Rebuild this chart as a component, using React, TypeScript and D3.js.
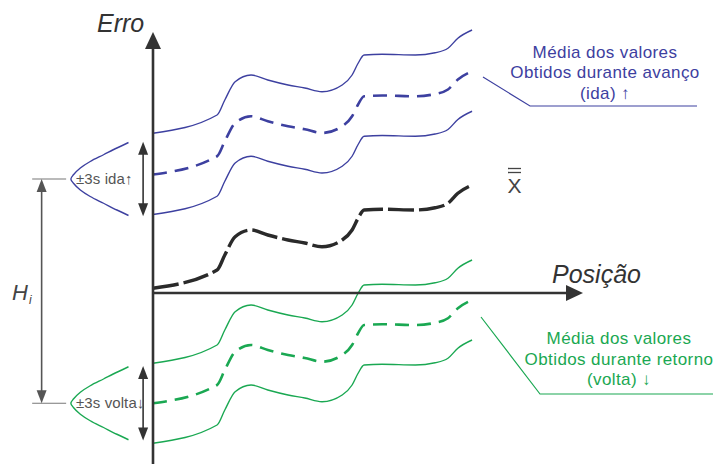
import React, { useEffect, useRef } from 'react';
import * as d3 from 'd3';

const W = 713;
const H = 464;

// posição ao longo do eixo (unidades arbitrárias)
const posicao = [0, 14.9, 16.7, 19.1, 22.8, 26.7, 31.4, 35.3, 39.3, 44.0, 46.3, 47.7, 49.1, 53.3, 61.0, 65.6, 68.6, 70.9, 74.2];

// ida (avanço)
const idaSup = [63.9, 71.2, 77.2, 84.5, 87.2, 85.2, 83.2, 82.0, 80.5, 83.2, 87.2, 91.9, 95.2, 95.5, 95.2, 96.1, 97.9, 101.9, 105.2];
const idaMedia = [47.4, 54.7, 60.7, 68.0, 70.7, 68.7, 66.7, 65.5, 64.0, 66.7, 70.7, 75.4, 78.7, 79.0, 78.7, 79.6, 81.4, 85.4, 88.7];
const idaInf = [31.4, 38.7, 44.7, 52.0, 54.7, 52.7, 50.7, 49.5, 48.0, 50.7, 54.7, 59.4, 62.7, 63.0, 62.7, 63.6, 65.4, 69.4, 72.7];

// média geral
const mediaGeral = [1.9, 9.2, 15.2, 22.5, 25.2, 23.2, 21.2, 20.0, 18.5, 21.2, 25.2, 29.9, 33.2, 33.5, 33.2, 34.1, 35.9, 39.9, 43.2];

// volta (retorno)
const voltaSup = [-28.1, -20.8, -14.8, -7.5, -4.8, -6.8, -8.8, -10.0, -11.5, -8.8, -4.8, -0.1, 3.2, 3.5, 3.2, 4.1, 5.9, 9.9, 13.2];
const voltaMedia = [-44.1, -36.8, -30.8, -23.5, -20.8, -22.8, -24.8, -26.0, -27.5, -24.8, -20.8, -16.1, -12.8, -12.5, -12.8, -11.9, -10.1, -6.1, -2.8];
const voltaInf = [-60.1, -52.8, -46.8, -39.5, -36.8, -38.8, -40.8, -42.0, -43.5, -40.8, -36.8, -32.1, -28.8, -28.5, -28.8, -27.9, -26.1, -22.1, -18.8];

// curva de distribuição (sino), desvio em erro e largura em posição
const sinoDesvio = [-14.6, -12.4, -9.7, -7.0, -4.4, -1.7, 0, 1.7, 4.4, 7.0, 9.7, 12.4, 14.6];
const sinoLargura = [13.4, 10.7, 7.6, 4.5, 2.2, 0.6, 0, 0.6, 2.2, 4.5, 7.6, 10.7, 13.4];
const centroIda = 45.6;
const centroVolta = -44.1;
const faixa3s = 14.9;

const AZUL = '#3d40a0';
const VERDE = '#1aa852';
const ESCURO = '#333';
const FONTE = '"Liberation Sans", Arial, sans-serif';

export default function App() {
  const ref = useRef<SVGSVGElement>(null);

  useEffect(() => {
    const svg = d3.select(ref.current);
    svg.selectAll('*').remove();

    const x = d3.scaleLinear().domain([0, 100]).range([153, 583]);
    const y = d3.scaleLinear().domain([0, 100]).range([293, 43]);

    const line = d3.line<number>()
      .x((d, i) => x(posicao[i]))
      .y(d => y(d))
      .curve(d3.curveMonotoneX);

    const series = [
      { v: idaSup, c: AZUL, w: 1.4, dash: null },
      { v: idaMedia, c: AZUL, w: 2.6, dash: '14,8' },
      { v: idaInf, c: AZUL, w: 1.4, dash: null },
      { v: mediaGeral, c: '#2a2a2a', w: 3.4, dash: '26,5' },
      { v: voltaSup, c: VERDE, w: 1.4, dash: null },
      { v: voltaMedia, c: VERDE, w: 2.6, dash: '14,8' },
      { v: voltaInf, c: VERDE, w: 1.4, dash: null },
    ];

    svg.append('g').selectAll('path').data(series).enter()
      .append('path')
      .attr('d', d => line(d.v))
      .attr('fill', 'none')
      .attr('stroke', d => d.c)
      .attr('stroke-width', d => d.w)
      .attr('stroke-dasharray', d => d.dash);

    // eixos
    const x0 = x(0), y0 = y(0);
    const topo = y(104.4), fim = x(100);
    svg.append('line').attr('x1', x0).attr('x2', x0).attr('y1', y(-70)).attr('y2', topo + 10)
      .attr('stroke', ESCURO).attr('stroke-width', 2.6);
    svg.append('path')
      .attr('d', `M${x0},${topo} L${x0 - 8},${topo + 17} L${x0 + 8},${topo + 17} Z`)
      .attr('fill', ESCURO);
    svg.append('line').attr('x1', x0).attr('x2', fim - 10).attr('y1', y0).attr('y2', y0)
      .attr('stroke', ESCURO).attr('stroke-width', 2.6);
    svg.append('path')
      .attr('d', `M${fim},${y0} L${fim - 17},${y0 - 8} L${fim - 17},${y0 + 8} Z`)
      .attr('fill', ESCURO);

    svg.append('text').attr('x', 97).attr('y', 32).text('Erro')
      .attr('font-family', FONTE).attr('font-style', 'italic').attr('font-size', 25).attr('fill', ESCURO);
    svg.append('text').attr('x', 552).attr('y', 283).text('Posição')
      .attr('font-family', FONTE).attr('font-style', 'italic').attr('font-size', 25).attr('fill', ESCURO);

    // sinos e faixas ±3s
    const sino = d3.line<number>()
      .x((d, i) => x(-19.1 + sinoLargura[i]))
      .y(d => y(d))
      .curve(d3.curveCatmullRom);

    const setaDupla = (cx: number, ya: number, yb: number, cor: string, w: number) => {
      svg.append('line').attr('x1', cx).attr('x2', cx).attr('y1', ya + 8).attr('y2', yb - 8)
        .attr('stroke', cor).attr('stroke-width', w);
      svg.append('path').attr('d', `M${cx},${ya} L${cx - 5},${ya + 13} L${cx + 5},${ya + 13} Z`).attr('fill', cor);
      svg.append('path').attr('d', `M${cx},${yb} L${cx - 5},${yb - 13} L${cx + 5},${yb - 13} Z`).attr('fill', cor);
    };

    const grupos = [
      { centro: centroIda, cor: AZUL, rotulo: '±3s ida↑' },
      { centro: centroVolta, cor: VERDE, rotulo: '±3s volta↓' },
    ];
    grupos.forEach(g => {
      svg.append('path')
        .attr('d', sino(sinoDesvio.map(d => g.centro + d)))
        .attr('fill', 'none').attr('stroke', g.cor).attr('stroke-width', 1.4);
      setaDupla(x(-2.3), y(g.centro + faixa3s), y(g.centro - faixa3s), ESCURO, 1.6);
      svg.append('text').attr('x', 76).attr('y', y(g.centro) + 5).text(g.rotulo)
        .attr('font-family', FONTE).attr('font-size', 15).attr('letter-spacing', 0.1).attr('fill', '#555');
      svg.append('line').attr('x1', x(-28.1)).attr('x2', x(-20.2))
        .attr('y1', y(g.centro)).attr('y2', y(g.centro))
        .attr('stroke', '#777').attr('stroke-width', 1.2);
    });

    // Hi
    setaDupla(x(-25.9), y(centroIda), y(centroVolta), '#555', 1.6);
    const hi = svg.append('text').attr('x', 12).attr('y', 300)
      .attr('font-family', FONTE).attr('font-style', 'italic').attr('fill', '#444');
    hi.append('tspan').attr('font-size', 22).text('H');
    hi.append('tspan').attr('font-size', 12).attr('dy', 4).attr('dx', 1).text('i');

    // X duas barras
    svg.append('text').attr('x', 514.5).attr('y', 193).attr('text-anchor', 'middle').text('X')
      .attr('font-family', FONTE).attr('font-size', 21).attr('fill', '#444');
    [168.5, 172.5].forEach(yy => {
      svg.append('line').attr('x1', 508).attr('x2', 521).attr('y1', yy).attr('y2', yy)
        .attr('stroke', '#444').attr('stroke-width', 1.3);
    });

    // legendas
    const legenda = (linhas: string[], cx: number, y1: number, cor: string, guia: string) => {
      svg.append('path').attr('d', guia).attr('fill', 'none').attr('stroke', cor).attr('stroke-width', 1.2);
      linhas.forEach((t, i) => {
        svg.append('text').attr('x', cx).attr('y', y1 + i * 20.5).attr('text-anchor', 'middle').text(t)
          .attr('font-family', FONTE).attr('font-size', 17).attr('letter-spacing', 0.4).attr('fill', cor);
      });
    };
    legenda(['Média dos valores', 'Obtidos durante avanço', '(ida)  ↑'], 605, 57.5, AZUL,
      'M483,77 L530,106 L697,106');
    legenda(['Média dos valores', 'Obtidos durante retorno', '(volta) ↓'], 619, 344, VERDE,
      'M481,317 L540,394 L713,394');
  }, []);

  return (
    <svg ref={ref} width={W} height={H}
      style={{ position: 'absolute', left: 0, top: 0, background: '#fff' }} />
  );
}
